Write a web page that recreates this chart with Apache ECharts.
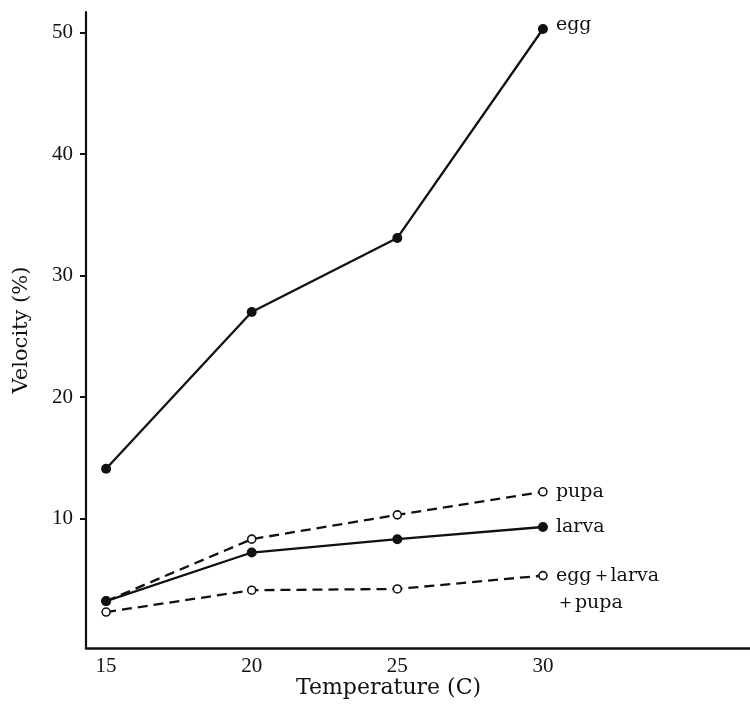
<!DOCTYPE html>
<html>
<head>
<meta charset="utf-8">
<script src="https://cdn.jsdelivr.net/npm/echarts@6/dist/echarts.min.js"></script>
<style>
html,body{margin:0;padding:0;background:#fff;}
#chart{width:750px;height:715px;}
</style>
</head>
<body>
<div id="chart"></div>
<script>
const temps = [15, 20, 25, 30];
const egg = [14.1, 27.0, 33.1, 50.3];
const pupa = [3.2, 8.3, 10.3, 12.2];
const larva = [3.2, 7.2, 8.3, 9.3];
const eggLarvaPupa = [2.3, 4.1, 4.2, 5.3];
const yTickValues = [10, 20, 30, 40, 50];
const xTickValues = [15, 20, 25, 30];
const seriesNames = ['egg', 'pupa', 'larva', 'egg＋larva\n＋pupa'];

const ink = '#111';
const serif = '"DejaVu Serif", "Liberation Serif", serif';
const numFont = '"Liberation Serif", "DejaVu Serif", serif';

function pairs(vals) { return temps.map((t, i) => [t, vals[i]]); }

function makeSeries(name, vals, dashed, filled, labelOffset, z) {
  return {
    name: name,
    type: 'line',
    data: pairs(vals),
    z: z,
    symbol: 'circle',
    symbolSize: filled ? 10 : 8,
    itemStyle: { color: filled ? ink : '#fff', borderColor: ink, borderWidth: filled ? 0 : 1.6 },
    lineStyle: { color: ink, width: 2.3, type: dashed ? [10, 6] : 'solid' },
    emphasis: { disabled: true },
    endLabel: {
      show: true,
      formatter: name,
      color: ink,
      fontFamily: serif,
      fontSize: 19,
      lineHeight: 27,
      distance: 13,
      offset: labelOffset
    },
    animation: false
  };
}

const chart = echarts.init(document.getElementById('chart'));
chart.setOption({
  animation: false,
  grid: { left: 86, right: 0, top: 12, bottom: 67 },
  xAxis: {
    type: 'value',
    min: 14.31,
    max: 37.11,
    axisLine: { show: true, onZero: false, lineStyle: { color: ink, width: 2.5 } },
    axisTick: { show: false },
    splitLine: { show: false },
    axisLabel: {
      customValues: xTickValues,
      color: ink,
      fontFamily: numFont,
      fontSize: 21,
      margin: 8
    }
  },
  yAxis: {
    type: 'value',
    min: -0.66,
    max: 51.7,
    name: 'Velocity (%)',
    nameLocation: 'middle',
    nameRotate: 90,
    nameGap: 54,
    nameTextStyle: { color: ink, fontFamily: serif, fontSize: 21 },
    axisLine: { show: true, onZero: false, lineStyle: { color: ink, width: 2.2 } },
    axisTick: { show: true, customValues: yTickValues, length: 6, lineStyle: { color: ink, width: 2 } },
    splitLine: { show: false },
    axisLabel: {
      customValues: yTickValues,
      color: ink,
      fontFamily: numFont,
      fontSize: 21,
      margin: 13
    }
  },
  graphic: [{
    type: 'text',
    left: 296,
    top: 677,
    style: { text: 'Temperature (C)', fill: ink, font: '22px ' + serif }
  }],
  series: [
    makeSeries(seriesNames[0], egg, false, true, [0, -4], 5),
    makeSeries(seriesNames[1], pupa, true, false, [0, 0], 3),
    makeSeries(seriesNames[2], larva, false, true, [0, 0], 4),
    makeSeries(seriesNames[3], eggLarvaPupa, true, false, [0, 14], 3)
  ]
});
</script>
</body>
</html>
